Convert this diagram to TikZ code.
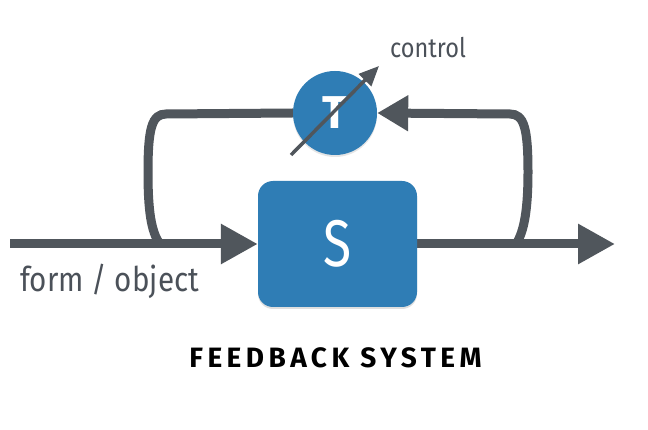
\documentclass[tikz,border=0pt]{standalone}
\usepackage{fontspec}
\setmainfont{Fira Sans}
\newfontfamily\condfont[FakeStretch=0.87]{Fira Sans}
\newfontfamily\narrowfont[FakeStretch=0.78]{Fira Sans}
\newfontfamily\spacedfont[LetterSpace=16]{Fira Sans}
\usetikzlibrary{arrows.meta,shadows,backgrounds}
\definecolor{bluefill}{HTML}{2F7DB5}
\definecolor{linegray}{HTML}{50565C}
\definecolor{textgray}{HTML}{4B5159}
\tikzset{
  flow/.style={draw=linegray, line width=9pt, -{Triangle[length=37pt,width=38pt]}},
  loopline/.style={draw=linegray, line width=9pt},
  fbarrow/.style={draw=linegray, line width=9pt, -{Triangle[length=31pt,width=34pt]}},
  ctrlarrow/.style={draw=linegray, line width=3.5pt, -{Triangle[length=20pt,width=17pt]}},
  sbox/.style={rectangle, rounded corners=15pt, fill=bluefill, minimum width=159pt, minimum height=126pt, inner sep=0pt, text=white, font=\narrowfont\fontsize{66}{66}\selectfont, drop shadow={opacity=0.25, shadow xshift=0pt, shadow yshift=-2pt}},
  tcirc/.style={circle, fill=bluefill, minimum size=84pt, inner sep=0pt, text=white, font=\fontsize{46}{46}\selectfont\bfseries, drop shadow={opacity=0.2, shadow xshift=0pt, shadow yshift=-2pt}},
  lbl/.style={inner sep=0pt, text=textgray}
}
\begin{document}
\begin{tikzpicture}[x=1pt,y=-1pt]
\useasboundingbox (0,0) rectangle (648,430);
\node[sbox] (S) at (337.5,244) {S};
\node[tcirc] (T) at (335,113) {T};
\coordinate (inp) at (10,244);
\coordinate (outp) at (615,244);
\coordinate (ds) at (291,155);
\coordinate (de) at (379,66);
\coordinate (jl) at (160,244);
\coordinate (jr) at (516,244);
\begin{scope}[on background layer]
\fill[white] (0,0) rectangle (648,430);
\draw[flow] (inp) -- (S.west);
\draw[flow] (S.east) -- (outp);
\draw[loopline] (T.west) -- (166,114) .. controls (152,114) and (148,128) .. (148,172) .. controls (148,210) and (151,232) .. (jl);
\draw[fbarrow] (jr) .. controls (524,232) and (528,210) .. (528,172) .. controls (528,128) and (524,114) .. (510,114) -- (T.east);
\end{scope}
\draw[ctrlarrow] (ds) -- (de);
\node[lbl, anchor=base west, font=\condfont\fontsize{27}{27}\selectfont] (ctl) at (390,58) {control};
\node[lbl, anchor=base west, font=\condfont\fontsize{34}{34}\selectfont] (fo) at (20,292) {form / object};
\node[inner sep=0pt, anchor=base, text=black, font=\spacedfont\bfseries\fontsize{28}{28}\selectfont] (fb) at (335.5,367) {FEEDBACK SYSTEM};
\end{tikzpicture}
\end{document}
